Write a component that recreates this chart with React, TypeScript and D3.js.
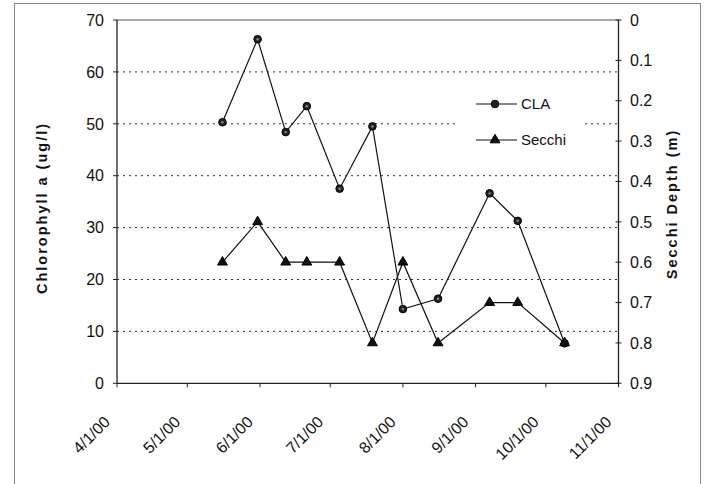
import React from "react";
import * as d3 from "d3";

const sampleDates = ["2000-05-16","2000-05-31","2000-06-12","2000-06-21","2000-07-05","2000-07-19","2000-08-01","2000-08-16","2000-09-07","2000-09-19","2000-10-09"];
const claValues = [50.3, 66.3, 48.4, 53.4, 37.5, 49.5, 14.3, 16.3, 36.6, 31.3, 7.7];
const secchiValues = [0.6, 0.5, 0.6, 0.6, 0.6, 0.8, 0.6, 0.8, 0.7, 0.7, 0.8];
const xTickDates = ["2000-04-01","2000-05-01","2000-06-01","2000-07-01","2000-08-01","2000-09-01","2000-10-01","2000-11-01"];
const leftTicks = [0, 10, 20, 30, 40, 50, 60, 70];
const gridTicks = [10, 20, 30, 40, 50, 60];
const rightTicks = [0, 0.1, 0.2, 0.3, 0.4, 0.5, 0.6, 0.7, 0.8, 0.9];

const parse = d3.utcParse("%Y-%m-%d");
const fmt = d3.utcFormat("%-m/%-d/%y");

export default function App() {
  const left = 117, right = 618.5, top = 20, bottom = 383.3;
  const x = d3.scaleUtc().domain([parse(xTickDates[0])!, parse(xTickDates[xTickDates.length - 1])!]).range([left, right]);
  const yL = d3.scaleLinear().domain([0, 70]).range([bottom, top]);
  const yR = d3.scaleLinear().domain([0, 0.9]).range([top, bottom]);
  const pts = sampleDates.map((d, i) => ({ t: parse(d)!, c: claValues[i], s: secchiValues[i] }));
  const claLine = d3.line<any>().x(d => x(d.t)).y(d => yL(d.c))(pts) || "";
  const secLine = d3.line<any>().x(d => x(d.t)).y(d => yR(d.s))(pts) || "";
  const tri = d3.symbol().type(d3.symbolTriangle).size(42)() || "";
  const font = "'Liberation Sans', Arial, sans-serif";
  const ax = "#222";

  return (
    <svg width={709} height={484} style={{ position: "absolute", left: 0, top: 0, background: "#fff" }} fontFamily={font}>
      <rect x={14.5} y={3.5} width={686} height={500} fill="none" stroke="#888" strokeWidth={1} />
      {/* grid */}
      {gridTicks.map(v => (
        <line key={v} x1={left} x2={right} y1={yL(v)} y2={yL(v)} stroke="#333" strokeWidth={1} strokeDasharray="2,4" />
      ))}
      {/* legend background */}
      <rect x={457} y={84} width={125} height={74} fill="#fff" />
      {/* frame */}
      <line x1={left} x2={right} y1={top} y2={top} stroke="#555" strokeWidth={1.2} />
      <line x1={left} x2={left} y1={top} y2={bottom} stroke={ax} strokeWidth={1.3} />
      <line x1={right} x2={right} y1={top} y2={bottom} stroke={ax} strokeWidth={1.3} />
      <line x1={left} x2={right} y1={bottom} y2={bottom} stroke={ax} strokeWidth={1.3} />
      {/* left ticks */}
      {leftTicks.map(v => (
        <g key={v}>
          <line x1={left - 4} x2={left} y1={yL(v)} y2={yL(v)} stroke={ax} />
          <text x={104} y={yL(v)} dy="0.36em" textAnchor="end" fontSize={16} fill="#111">{v}</text>
        </g>
      ))}
      {/* right ticks */}
      {rightTicks.map(v => (
        <g key={v}>
          <line x1={right - 3} x2={right + 3} y1={yR(v)} y2={yR(v)} stroke={ax} />
          <text x={630} y={yR(v)} dy="0.36em" textAnchor="start" fontSize={16} fill="#111">{v === 0 ? "0" : d3.format(".1f")(v)}</text>
        </g>
      ))}
      {/* x ticks */}
      {xTickDates.map(d => {
        const px = x(parse(d)!);
        return (
          <g key={d}>
            <line x1={px} x2={px} y1={bottom} y2={bottom + 4} stroke={ax} />
            <text transform={`translate(${px - 6},${423}) rotate(-45)`} textAnchor="end" fontSize={16} fill="#111">{fmt(parse(d)!)}</text>
          </g>
        );
      })}
      {/* series */}
      <path d={claLine} fill="none" stroke="#111" strokeWidth={1.2} />
      <path d={secLine} fill="none" stroke="#111" strokeWidth={1.2} />
      {pts.map((p, i) => (
        <g key={"c" + i}>
          <circle cx={x(p.t)} cy={yL(p.c)} r={3.8} fill="#222" stroke="#000" strokeWidth={1} />
          <circle cx={x(p.t)} cy={yL(p.c)} r={1.2} fill="#888" />
        </g>
      ))}
      {pts.map((p, i) => (
        <path key={"s" + i} d={tri} transform={`translate(${x(p.t)},${yR(p.s)})`} fill="#111" stroke="#000" strokeWidth={1} />
      ))}
      {/* legend */}
      <line x1={476} x2={517} y1={104} y2={104} stroke="#111" strokeWidth={1.2} />
      <circle cx={495} cy={104} r={3.8} fill="#222" stroke="#000" />
      <text x={521} y={104} dy="0.36em" fontSize={15} fill="#111">CLA</text>
      <line x1={476} x2={517} y1={140} y2={140} stroke="#111" strokeWidth={1.2} />
      <path d={tri} transform="translate(495,140)" fill="#111" stroke="#000" />
      <text x={521} y={140} dy="0.36em" fontSize={15} fill="#111">Secchi</text>
      {/* titles */}
      <text transform="translate(47,208) rotate(-90)" textAnchor="middle" fontSize={14.5} fontWeight="bold" letterSpacing={2} fill="#111">Chlorophyll a (ug/l)</text>
      <text transform="translate(677,204) rotate(-90)" textAnchor="middle" fontSize={14.5} fontWeight="bold" letterSpacing={2} fill="#111">Secchi Depth (m)</text>
    </svg>
  );
}
